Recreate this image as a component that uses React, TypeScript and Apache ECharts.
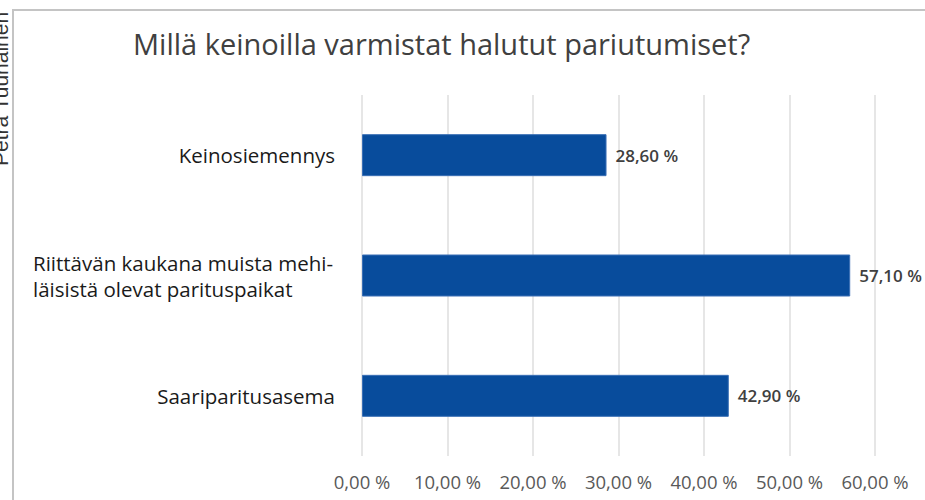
import React, { useEffect, useRef } from "react";
import * as echarts from "echarts";

const titleText = "Millä keinoilla varmistat halutut pariutumiset?";
const creditText = "Petra Tuuhainen";
const categories = [
  "Keinosiemennys",
  "Riittävän kaukana muista mehi-\nläisistä olevat parituspaikat",
  "Saariparitusasema",
];
const values = [28.6, 57.1, 42.9];
const xMin = 0;
const xMax = 60;
const xStep = 10;

const fmt = (v: number) => v.toFixed(2).replace(".", ",") + " %";

export default function App() {
  const ref = useRef<HTMLDivElement>(null);
  useEffect(() => {
    if (!ref.current) return;
    const chart = echarts.init(ref.current, null, { renderer: "svg" });
    chart.setOption({
      animation: false,
      backgroundColor: "#ffffff",
      title: {
        text: titleText,
        left: 128,
        top: 24,
        textStyle: {
          fontFamily: "Open Sans",
          fontSize: 29,
          fontWeight: "normal",
          color: "#404040",
        },
      },
      graphic: [
        {
          type: "rect",
          shape: { x: 13, y: 10, width: 1200, height: 800 },
          style: { fill: "none", stroke: "#c4c4c4", lineWidth: 2 },
          silent: true,
        },
        {
          type: "text",
          x: 11,
          y: 166,
          rotation: Math.PI / 2,
          style: {
            text: creditText,
            font: "21px 'Liberation Sans'",
            fill: "#333333",
            textAlign: "left",
            textVerticalAlign: "bottom",
          },
          silent: true,
        },
      ],
      grid: { left: 362, right: 50, top: 95, bottom: 44, containLabel: false },
      xAxis: {
        type: "value",
        min: xMin,
        max: xMax,
        interval: xStep,
        axisLine: { show: false },
        axisTick: { show: false },
        splitLine: { lineStyle: { color: "#dedede", width: 1.5 } },
        axisLabel: {
          formatter: (v: number) => fmt(v),
          margin: 16,
          fontFamily: "Open Sans",
          fontSize: 18.5,
          color: "#595959",
        },
      },
      yAxis: {
        type: "category",
        data: categories,
        inverse: true,
        axisLine: { show: false },
        axisTick: { show: false },
        axisLabel: {
          margin: 27,
          formatter: (v: string) =>
            v.includes("\n")
              ? v
                  .split("\n")
                  .map((l) => `{m|${l}}`)
                  .join("\n")
              : `{s|${v}}`,
          rich: {
            m: {
              width: 302,
              align: "left",
              fontFamily: "Open Sans",
              fontSize: 20.5,
              lineHeight: 26,
              color: "#1a1a1a",
            },
            s: {
              fontFamily: "Open Sans",
              fontSize: 20.5,
              lineHeight: 26,
              color: "#1a1a1a",
            },
          },
        },
      },
      series: [
        {
          type: "bar",
          data: values,
          barWidth: 42,
          itemStyle: { color: "#084c9c", borderColor: "#3a6fb5", borderWidth: 1 },
          label: {
            show: true,
            position: "right",
            distance: 9,
            formatter: (p: any) => fmt(p.value),
            fontFamily: "Open Sans",
            fontSize: 17,
            fontWeight: 600,
            color: "#404040",
          },
        },
      ],
    });
    return () => chart.dispose();
  }, []);
  return (
    <div
      ref={ref}
      style={{ position: "absolute", left: 0, top: 0, width: 925, height: 500 }}
    />
  );
}
